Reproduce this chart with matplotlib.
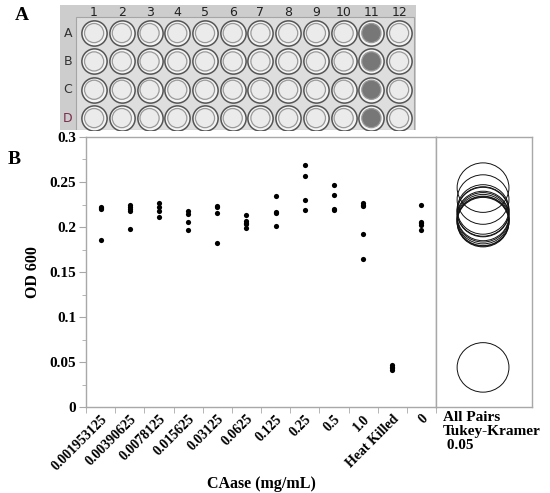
import matplotlib
matplotlib.use("Agg")
import matplotlib.pyplot as plt
from matplotlib.patches import Ellipse, Rectangle
import numpy as np

plt.rcParams['font.family'] = ['Liberation Serif', 'DejaVu Serif']
plt.rcParams['font.weight'] = 'bold'

# ---------------- data ----------------
categories = ["0.001953125", "0.00390625", "0.0078125", "0.015625", "0.03125",
              "0.0625", "0.125", "0.25", "0.5", "1.0", "Heat Killed", "0"]
values = [
    [0.222, 0.221, 0.220, 0.186],
    [0.225, 0.222, 0.220, 0.218, 0.198],
    [0.227, 0.222, 0.218, 0.211],
    [0.218, 0.214, 0.206, 0.197],
    [0.223, 0.222, 0.216, 0.182],
    [0.213, 0.207, 0.205, 0.203, 0.199],
    [0.235, 0.217, 0.216, 0.201],
    [0.269, 0.257, 0.230, 0.219],
    [0.247, 0.236, 0.220, 0.219],
    [0.227, 0.225, 0.223, 0.192, 0.164],
    [0.047, 0.045, 0.043, 0.041],
    [0.225, 0.206, 0.204, 0.202, 0.197],
]
y_ticks = [0, 0.05, 0.1, 0.15, 0.2, 0.25, 0.3]
y_tick_labels = ["0", "0.05", "0.1", "0.15", "0.2", "0.25", "0.3"]
circle_radius = 0.0275

plate_columns = [str(i) for i in range(1, 13)]
plate_rows = ["A", "B", "C", "D"]
dark_columns = ["11"]

# ---------------- figure ----------------
fig = plt.figure(figsize=(5.5, 4.93), dpi=100)

# Panel A: schematic of the well plate
axA = fig.add_axes([60/550, 1-130/493, 356/550, 125/493])
axA.set_xlim(-0.23, 12.61)
axA.set_ylim(4.42, 0.01)
axA.axis('off')
axA.add_patch(Rectangle((-0.23, 0.01), 12.84, 4.41, facecolor='#cdcdcd', edgecolor='none'))
axA.add_patch(Rectangle((0.35, 0.45), 12.2, 3.97, facecolor='#dedede', edgecolor='#a5a5a5', lw=0.8))
cx, cy, fc = [], [], []
for r_i, r in enumerate(plate_rows):
    for c_i, c in enumerate(plate_columns):
        cx.append(c_i + 1)
        cy.append(r_i + 1)
        fc.append('#777777' if c in dark_columns else '#ebebeb')
axA.scatter(cx, cy, s=330, facecolor='#f4f4f4', edgecolor='#555555', linewidth=1.1, zorder=3)
axA.scatter(cx, cy, s=190, facecolor=fc, edgecolor='#999999', linewidth=0.9, zorder=4)
for c_i, c in enumerate(plate_columns):
    axA.text(c_i + 1, 0.26, c, ha='center', va='center', fontsize=9,
             family='DejaVu Sans', weight='normal', color='#222222')
for r_i, r in enumerate(plate_rows):
    axA.text(0.06, r_i + 1, r, ha='center', va='center', fontsize=9,
             family='DejaVu Sans', weight='normal',
             color='#7a2a4a' if r == 'D' else '#333333')

fig.text(22/550, 1-16/493, "A", fontsize=14, weight='bold', ha='center', va='center')
fig.text(14/550, 1-160/493, "B", fontsize=14, weight='bold', ha='center', va='center')

# Panel B: main scatter
grey = '#a8a8a8'
ax = fig.add_axes([86/550, 1-407/493, 350/550, 270/493])
n = len(categories)
xpos = np.arange(n)
for i, vals in enumerate(values):
    ax.scatter(np.full(len(vals), xpos[i]), vals, s=14, color='black', zorder=3, linewidths=0)
ax.set_xlim(-0.5, n - 0.5)
ax.set_ylim(0, 0.3)
ax.set_yticks(y_ticks)
ax.set_yticklabels(y_tick_labels, fontsize=11, weight='bold')
ax.set_yticks(np.arange(0.025, 0.3, 0.05), minor=True)
ax.set_xticks(xpos)
ax.set_xticklabels(categories, rotation=45, ha='right', rotation_mode='anchor',
                   fontsize=10, weight='bold')
ax.set_xticks(np.arange(-0.5, n, 1.0), minor=True)
ax.tick_params(axis='x', which='major', length=0, pad=4)
ax.tick_params(axis='x', which='minor', length=4, color=grey, direction='out')
ax.tick_params(axis='y', which='major', length=5, color=grey, direction='out', pad=2)
ax.tick_params(axis='y', which='minor', length=3, color=grey, direction='out')
for s in ax.spines.values():
    s.set_color(grey)
    s.set_linewidth(1.0)
ax.set_ylabel("OD 600", fontsize=11.5, weight='bold', labelpad=6)
ax.set_xlabel("CAase (mg/mL)", fontsize=11.5, weight='bold', labelpad=2)

# Comparison circles panel
axC = fig.add_axes([436/550, 1-407/493, 96/550, 270/493])
axC.set_xlim(0, 1)
axC.set_ylim(0, 0.3)
axC.set_xticks([])
axC.set_yticks([])
for s in axC.spines.values():
    s.set_color(grey)
    s.set_linewidth(1.0)
for vals in values:
    m = float(np.mean(vals))
    axC.add_patch(Ellipse((0.49, m), width=0.54, height=2*circle_radius,
                          facecolor='none', edgecolor='#111111', lw=0.7))
axC.text(0.07, -0.004, "All Pairs\nTukey-Kramer\n 0.05", transform=axC.transData,
         ha='left', va='top', fontsize=11, weight='bold', linespacing=1.1, clip_on=False)

fig.savefig("out.png", dpi=100)
